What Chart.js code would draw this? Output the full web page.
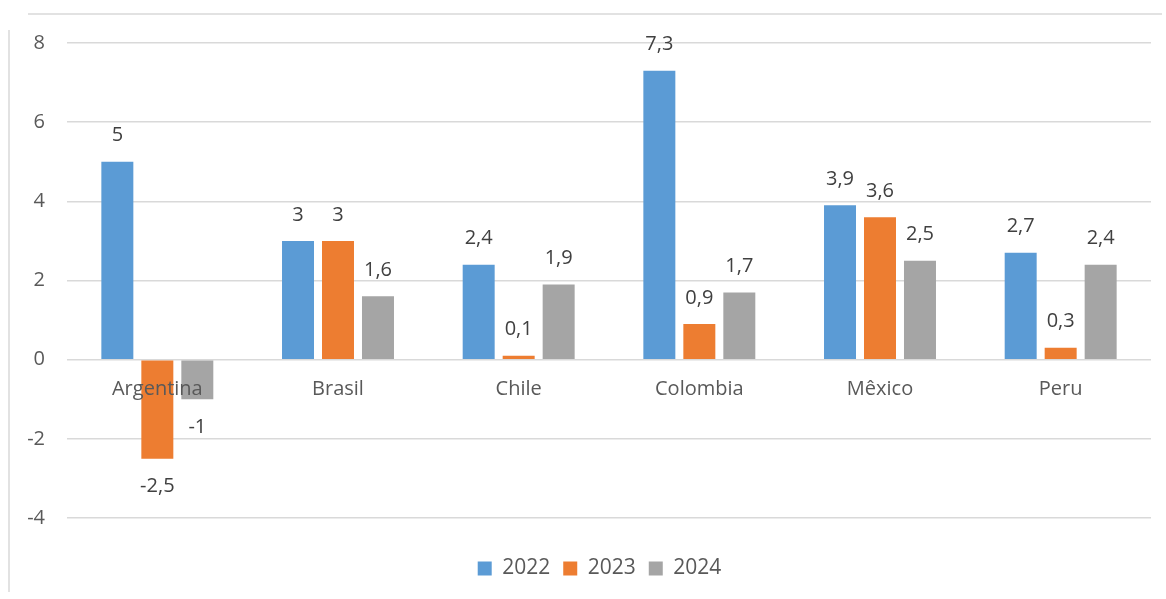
<!DOCTYPE html>
<html>
<head>
<meta charset="utf-8">
<script src="https://cdn.jsdelivr.net/npm/chart.js@4.4.1/dist/chart.umd.min.js"></script>
<style>
  html, body { margin: 0; padding: 0; background: #ffffff; }
  #wrap { position: relative; width: 1166px; height: 599px; overflow: hidden; }
  #c { position: absolute; left: 0; top: 0; }
  .bt { position: absolute; left: 28px; top: 13px; width: 1134px; height: 0; border-top: 2px solid #e2e2e2; }
  .bl { position: absolute; left: 8px; top: 30px; width: 0; height: 562px; border-left: 2px solid #e2e2e2; }
</style>
</head>
<body>
<div id="wrap">
  <div class="bt"></div>
  <div class="bl"></div>
  <canvas id="c" width="1166" height="599"></canvas>
</div>
<script>
const categories = ['Argentina', 'Brasil', 'Chile', 'Colombia', 'Mêxico', 'Peru'];
const seriesNames = ['2022', '2023', '2024'];
const values2022 = [5, 3, 2.4, 7.3, 3.9, 2.7];
const values2023 = [-2.5, 3, 0.1, 0.9, 3.6, 0.3];
const values2024 = [-1, 1.6, 1.9, 1.7, 2.5, 2.4];
const seriesColors = ['#5B9BD5', '#ED7D31', '#A5A5A5'];
const yMin = -4, yMax = 8, yStep = 2;

const FONT = "'Open Sans', 'Noto Sans', sans-serif";

const fmt = v => String(v).replace('.', ',');

const labelsPlugin = {
  id: 'customLabels',
  afterLayout(chart) {
    // centre the legend the way the reference does (slightly right of canvas centre)
    const lg = chart.legend;
    if (lg) { lg.left += 24; lg.right += 24; }
  },
  afterDatasetsDraw(chart) {
    const ctx = chart.ctx;
    const xs = chart.scales.x, ys = chart.scales.y;
    ctx.save();
    ctx.font = "20px " + FONT;
    ctx.textAlign = 'center';
    ctx.textBaseline = 'middle';
    ctx.fillStyle = '#404040';
    chart.data.datasets.forEach((ds, di) => {
      const meta = chart.getDatasetMeta(di);
      meta.data.forEach((el, i) => {
        const v = ds.data[i];
        const y = v >= 0 ? el.y - 26 : el.y + 28;
        ctx.fillText(fmt(v), el.x, y);
      });
    });
    ctx.fillStyle = '#595959';
    const y0 = ys.getPixelForValue(0);
    categories.forEach((c, i) => {
      ctx.fillText(c, xs.getPixelForValue(i), y0 + 30);
    });
    ctx.restore();
  }
};

new Chart(document.getElementById('c'), {
  type: 'bar',
  data: {
    labels: categories,
    datasets: [
      { label: seriesNames[0], data: values2022, backgroundColor: seriesColors[0], borderWidth: 0 },
      { label: seriesNames[1], data: values2023, backgroundColor: seriesColors[1], borderWidth: 0 },
      { label: seriesNames[2], data: values2024, backgroundColor: seriesColors[2], borderWidth: 0 }
    ]
  },
  options: {
    responsive: false,
    animation: false,
    layout: { padding: { top: 43, right: 15, bottom: 10, left: 0 } },
    datasets: { bar: { categoryPercentage: 0.664, barPercentage: 0.8 } },
    scales: {
      x: {
        grid: { display: false },
        border: { display: false },
        ticks: { display: false },
        afterFit(scale) { scale.height = 27; }
      },
      y: {
        min: yMin, max: yMax,
        ticks: { stepSize: yStep, padding: 22, color: '#595959', font: { family: FONT, size: 20 } },
        grid: { color: '#d9d9d9', lineWidth: 1.5, drawTicks: false },
        border: { display: false },
        afterFit(scale) { scale.width = 67; }
      }
    },
    plugins: {
      legend: {
        position: 'bottom',
        labels: {
          boxWidth: 14, boxHeight: 14, padding: 13,
          color: '#595959', font: { family: FONT, size: 21 }
        }
      },
      tooltip: { enabled: false }
    }
  },
  plugins: [labelsPlugin]
});
</script>
</body>
</html>
